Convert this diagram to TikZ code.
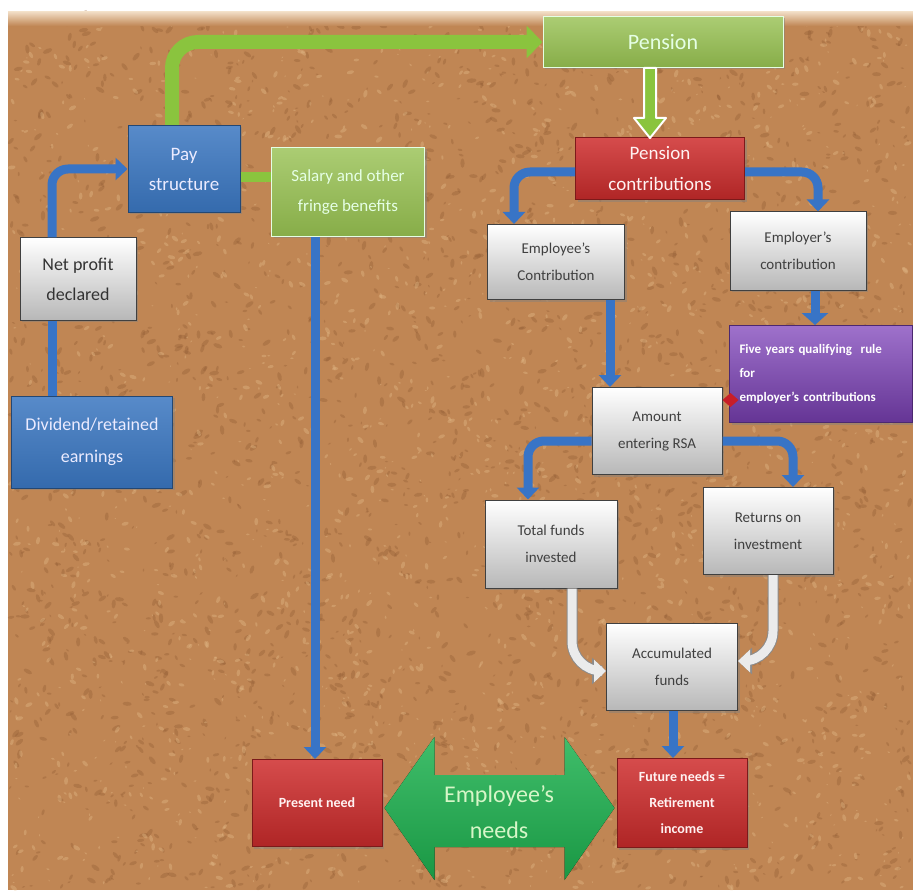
\documentclass[tikz,border=0pt]{standalone}
\usepackage{fontspec}
\setmainfont{Carlito}
\usetikzlibrary{arrows.meta,shadows}

\definecolor{corkbase}{RGB}{192,134,84}
\definecolor{corkdark}{RGB}{146,92,52}
\definecolor{corklight}{RGB}{226,184,134}
\definecolor{boxblue}{RGB}{58,118,192}
\definecolor{arrowblue}{RGB}{56,116,198}
\definecolor{boxred}{RGB}{206,44,44}
\definecolor{boxgreen}{RGB}{150,192,80}
\definecolor{arrowgreen}{RGB}{138,196,62}
\definecolor{boxpurple}{RGB}{126,66,186}
\definecolor{needsgreen}{RGB}{30,178,80}
\definecolor{needstext}{RGB}{214,246,200}
\definecolor{dotred}{RGB}{200,30,40}

\tikzset{
    box/.style={rectangle, draw, line width=1pt, align=center, inner sep=3pt,
        drop shadow={opacity=.45, shadow xshift=2pt, shadow yshift=-2pt}},
    greybox/.style={box, draw=black!75, top color=white, bottom color=black!28,
        text=black!75, minimum width=131pt, minimum height=87pt,
        font=\fontsize{15}{27}\selectfont},
    bluebox/.style={box, draw=boxblue!60!black, top color=boxblue!85!white,
        bottom color=boxblue!90!black, text=white!92!blue},
    redbox/.style={box, draw=boxred!60!black, top color=boxred!85!white,
        bottom color=boxred!85!black, text=white!95!red,
        minimum width=130pt, minimum height=87pt,
        font=\bfseries\fontsize{14}{26}\selectfont},
    greenbox/.style={box, draw=white!90!green, top color=boxgreen!80!white,
        bottom color=boxgreen!90!black, text=white!90!green},
    purplebox/.style={box, draw=boxpurple!60!black, top color=boxpurple!75!white,
        bottom color=boxpurple!80!black, text=white, align=left},
    bluearrow/.style={draw=arrowblue, line width=9pt, rounded corners=16pt,
        -{Triangle[width=22pt,length=12pt]}},
    bluebar/.style={draw=arrowblue, line width=9pt},
    greenarrow/.style={draw=arrowgreen, line width=14pt, rounded corners=26pt,
        -{Triangle[width=32pt,length=16pt]}},
    greenbar/.style={draw=arrowgreen, line width=10pt},
    whitearrow/.style={draw=black!8, line width=9pt, rounded corners=30pt,
        -{Triangle[width=22pt,length=12pt]},
        preaction={draw=black!45, line width=11pt, -{Triangle[width=26pt,length=14pt]}}},
    hollowarrow/.style={fill=arrowgreen, draw=white, line width=2pt, line join=round},
    reddot/.style={draw=dotred, line width=2pt, -{Diamond[width=14pt,length=16pt]}},
    needsarrow/.style={top color=needsgreen!85!white, bottom color=needsgreen!85!black},
    needslabel/.style={text=needstext, align=center, font=\fontsize{24}{36}\selectfont}
}

\begin{document}
\begin{tikzpicture}[x=1pt, y=-1pt]
\useasboundingbox (0,0) rectangle (913,896);

% Cork board
\fill[corkbase] (8,12) rectangle (913,890);
\pgfmathsetseed{42}
\foreach \i in {1,...,2600}{
    \pgfmathsetmacro\px{10+900*rnd}
    \pgfmathsetmacro\py{14+874*rnd}
    \pgfmathsetmacro\pr{1.5+3.5*rnd}
    \pgfmathsetmacro\pa{180*rnd}
    \fill[corkdark, opacity=.35, rotate around={\pa:(\px,\py)}] (\px,\py) ellipse ({\pr} and {0.45*\pr});
}
\foreach \i in {1,...,2000}{
    \pgfmathsetmacro\px{10+900*rnd}
    \pgfmathsetmacro\py{14+874*rnd}
    \pgfmathsetmacro\pr{1+3*rnd}
    \pgfmathsetmacro\pa{180*rnd}
    \fill[corklight, opacity=.4, rotate around={\pa:(\px,\py)}] (\px,\py) ellipse ({\pr} and {0.5*\pr});
}
\shade[top color=corklight!50!white, bottom color=corkbase] (8,12) rectangle (913,26);

% Left side
\node[greenbox, minimum width=240pt, minimum height=51pt,
    font=\fontsize{22}{26}\selectfont] (pen) at (663,42) {Pension};
\node[bluebox, minimum width=112pt, minimum height=87pt,
    font=\fontsize{19}{30}\selectfont] (pay) at (184,169) {Pay\\structure};
\node[greenbox, minimum width=153pt, minimum height=89pt,
    font=\fontsize{17}{30}\selectfont] (sal) at (348,192) {Salary and other\\fringe benefits};
\node[greybox, minimum width=116pt, minimum height=82pt,
    font=\fontsize{18}{30}\selectfont, text=black!80] (net) at (78,279) {Net profit\\declared};
\node[bluebox, minimum width=161pt, minimum height=92pt,
    font=\fontsize{18}{32}\selectfont] (div) at (92,442) {Dividend/retained\\earnings};
\node[redbox] (pres) at (317,803) {Present need};

% Right side
\node[redbox, minimum width=169pt, minimum height=62pt,
    font=\fontsize{19}{31}\selectfont] (pc) at (660,169) {Pension\\contributions};
\node[greybox, minimum width=137pt, minimum height=75pt] (emp) at (556,262) {Employee’s\\Contribution};
\node[greybox, minimum width=136pt, minimum height=78pt] (emr) at (798,251) {Employer’s\\contribution};
\node[purplebox, minimum width=183pt, minimum height=97pt, text width=163pt,
    font=\bfseries\fontsize{13}{24}\selectfont] (five) at (821,374)
    {Five years qualifying\ \ rule\\for\\employer’s contributions};
\node[greybox, minimum width=130pt] (amt) at (657,431) {Amount\\entering RSA};
\node[greybox, minimum width=132pt, minimum height=88pt] (tot) at (551,544) {Total funds\\invested};
\node[greybox, minimum width=130pt] (ret) at (768,531) {Returns on\\investment};
\node[greybox] (acc) at (672,667) {Accumulated\\funds};
\node[redbox, minimum height=89pt] (fut) at (682,803) {Future needs =\\Retirement\\income};

% Connectors
\draw[greenarrow] ([xshift=-12pt]pay.north) |- (pen.west);
\draw[greenbar] ([yshift=-8pt]pay.east) coordinate (ps) -- (ps -| sal.west);
\draw[hollowarrow] ([xshift=-13pt]pen.south) ++(-6,0) -- ++(0,50) -- ++(-10,0)
    -- ++(16,20) -- ++(16,-20) -- ++(-10,0) -- ++(0,-50) -- cycle;
\draw[bluearrow] ([xshift=-26pt]net.north) |- (pay.west);
\draw[bluebar] ([xshift=-26pt]net.south) coordinate (ns) -- (ns |- div.north);
\draw[bluearrow] ([xshift=-33pt]sal.south) coordinate (ss) -- (ss |- pres.north);
\draw[bluearrow] ([yshift=-3pt]pc.west) -| ([xshift=-42pt]emp.north);
\draw[bluearrow] ([yshift=-3pt]pc.east) -| ([xshift=20pt]emr.north);
\draw[bluearrow, -{Triangle[width=26pt,length=12pt]}] ([xshift=17pt]emr.south) coordinate (es) -- (es |- five.north);
\draw[bluearrow] ([xshift=54pt]emp.south) coordinate (cs) -- (cs |- amt.north);
\draw[reddot] ([yshift=-26pt]five.west) coordinate (fs) -- (fs -| amt.east);
\draw[bluearrow] ([yshift=-10pt]amt.west) -| ([xshift=-23pt]tot.north);
\draw[bluearrow] ([yshift=-10pt]amt.east) -| ([xshift=25pt]ret.north);
\draw[whitearrow] ([xshift=21pt]tot.south) |- ([yshift=-4pt]acc.west);
\draw[whitearrow] ([xshift=5pt]ret.south) |- ([yshift=6pt]acc.east);
\draw[bluearrow] ([xshift=1pt]acc.south) coordinate (as) -- (as |- fut.north);

% Employee's needs
\fill[needsarrow] (pres.east) ++(2,5) -- ++(50,-71) -- ++(0,38) -- ++(130,0)
    -- ++(0,-38) -- ++(50,71) -- ++(-50,72) -- ++(0,-33) -- ++(-130,0)
    -- ++(0,33) -- cycle;
\node[needslabel] (needs) at (499,812) {Employee’s\\needs};

\end{tikzpicture}
\end{document}
